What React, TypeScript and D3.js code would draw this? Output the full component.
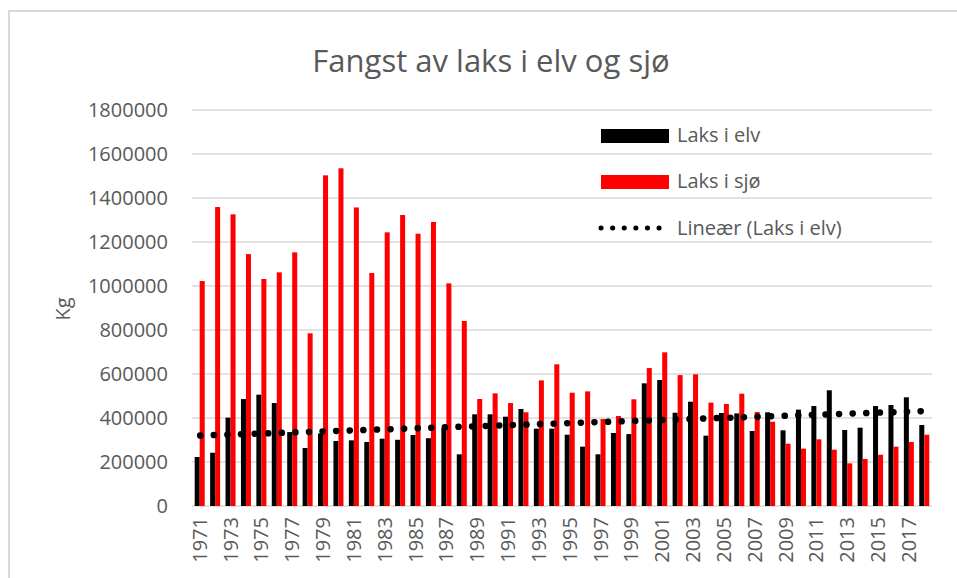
import React from "react";
import * as d3 from "d3";

// Fangst av laks (kg) per år
const years = [
  1971, 1972, 1973, 1974, 1975, 1976, 1977, 1978, 1979, 1980, 1981, 1982,
  1983, 1984, 1985, 1986, 1987, 1988, 1989, 1990, 1991, 1992, 1993, 1994,
  1995, 1996, 1997, 1998, 1999, 2000, 2001, 2002, 2003, 2004, 2005, 2006,
  2007, 2008, 2009, 2010, 2011, 2012, 2013, 2014, 2015, 2016, 2017, 2018,
];

const laksElv = [
  222700, 242000, 401500, 486000, 506000, 468000, 336000, 263600, 330000,
  295500, 298500, 291000, 306000, 301000, 322700, 308000, 355000, 235000,
  416700, 416700, 406000, 441000, 351500, 351500, 324000, 269700, 235000,
  332000, 327000, 557600, 572700, 424000, 474000, 319700, 422700, 421000,
  341000, 426000, 344000, 438000, 454500, 526000, 345500, 356000, 454500,
  459000, 494000, 368000,
];

const laksSjo = [
  1022700, 1359000, 1325800, 1145000, 1031800, 1062000, 1153000, 785000,
  1503000, 1535000, 1357000, 1059000, 1244000, 1322700, 1237700, 1290900,
  1012000, 841000, 486400, 512000, 468000, 426000, 571000, 644000, 515000,
  521000, 395500, 409000, 485000, 627000, 698500, 595000, 598500, 469700,
  463600, 510600, 427000, 383000, 283000, 260600, 303000, 256000, 194000,
  213600, 233000, 269700, 291000, 324000,
];

const yTicks = [0, 200000, 400000, 600000, 800000, 1000000, 1200000, 1400000, 1600000, 1800000];

const W = 957;
const H = 578;
const margin = { left: 192, right: 25, top: 110, bottom: 72 };
const textColor = "#595959";
const gridColor = "#d9d9d9";
const font = "'Open Sans', sans-serif";

export default function App() {
  const x = d3
    .scaleBand<number>()
    .domain(years)
    .range([margin.left, W - margin.right])
    .paddingInner(0.35)
    .paddingOuter(0.175);
  const xs = d3
    .scaleBand<string>()
    .domain(["elv", "sjo"])
    .range([0, x.bandwidth()]);
  const y = d3
    .scaleLinear()
    .domain([0, 1800000])
    .range([H - margin.bottom, margin.top]);

  // lineær trend for laks i elv (minste kvadraters metode)
  const idx = years.map((_, i) => i + 1);
  const mx = d3.mean(idx)!;
  const my = d3.mean(laksElv)!;
  const slope =
    d3.sum(idx, (t, i) => (t - mx) * (laksElv[i] - my)) /
    d3.sum(idx, (t) => (t - mx) * (t - mx));
  const icpt = my - slope * mx;
  const trend = d3
    .line<number>()
    .x((_, i) => x(years[i])! + x.step() * 0.5 - x.step() * 0.175 + 0.5)
    .y((t) => y(icpt + slope * t));

  const cx = (yr: number) => x(yr)! + x.bandwidth() / 2;

  return (
    <svg
      width={W}
      height={H}
      style={{ position: "absolute", left: 0, top: 0, background: "#fff" }}
      fontFamily={font}
    >
      <path
        d={`M9,${H + 5}V11H${W + 5}`}
        fill="none"
        stroke={gridColor}
        strokeWidth={2}
      />
      <text x={491} y={72} textAnchor="middle" fontSize={31} fill={textColor}>
        Fangst av laks i elv og sjø
      </text>

      {yTicks.map((t) => (
        <g key={t}>
          <line
            x1={margin.left}
            x2={W - margin.right}
            y1={y(t)}
            y2={y(t)}
            stroke={gridColor}
            strokeWidth={1.5}
          />
          <text
            x={168}
            y={y(t)}
            dy="0.35em"
            textAnchor="end"
            fontSize={20}
            fill={textColor}
          >
            {t}
          </text>
        </g>
      ))}

      <text
        transform={`translate(70,309) rotate(-90)`}
        textAnchor="middle"
        fontSize={20}
        fill={textColor}
      >
        Kg
      </text>

      {years.map((yr, i) => (
        <g key={yr}>
          <rect
            x={x(yr)! + xs("elv")!}
            y={y(laksElv[i])}
            width={xs.bandwidth()}
            height={y(0) - y(laksElv[i])}
            fill="#000"
          />
          <rect
            x={x(yr)! + xs("sjo")!}
            y={y(laksSjo[i])}
            width={xs.bandwidth()}
            height={y(0) - y(laksSjo[i])}
            fill="#ff0000"
          />
        </g>
      ))}

      <path
        d={trend(idx)!}
        fill="none"
        stroke="#000"
        strokeWidth={6.5}
        strokeLinecap="round"
        strokeDasharray="0.1 13.5"
      />

      {years
        .filter((_, i) => i % 2 === 0)
        .map((yr) => (
          <text
            key={yr}
            transform={`translate(${cx(yr)},517) rotate(-90)`}
            textAnchor="end"
            dy="0.35em"
            fontSize={20}
            fill={textColor}
          >
            {yr}
          </text>
        ))}

      {/* legend */}
      <rect x={601} y={129} width={68} height={14} fill="#000" />
      <text x={677} y={142} fontSize={20} fill={textColor}>
        Laks i elv
      </text>
      <rect x={601} y={175} width={68} height={14} fill="#ff0000" />
      <text x={677} y={188} fontSize={20} fill={textColor}>
        Laks i sjø
      </text>
      <line
        x1={601}
        x2={660}
        y1={228}
        y2={228}
        stroke="#000"
        strokeWidth={5}
        strokeLinecap="round"
        strokeDasharray="0.1 11.5"
      />
      <text x={677} y={235} fontSize={20} fill={textColor}>
        Lineær (Laks i elv)
      </text>
    </svg>
  );
}
